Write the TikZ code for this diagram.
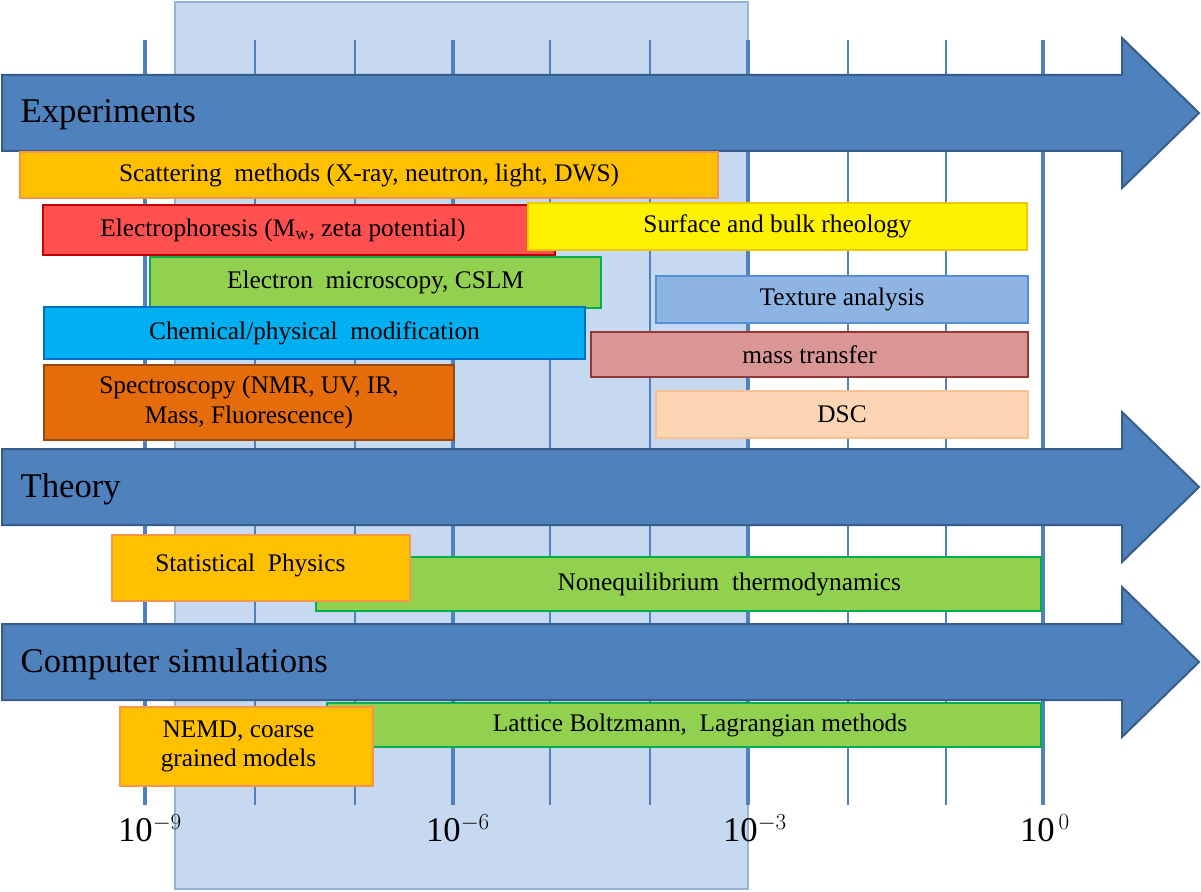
\documentclass[tikz,border=0pt]{standalone}
\usepackage{fontspec}
\setmainfont{Liberation Serif}
\definecolor{arrowblue}{HTML}{4F81BD}
\definecolor{arrowline}{HTML}{385D8A}
\definecolor{bandfill}{HTML}{C6D9F1}
\definecolor{bandline}{HTML}{95B3D7}
\begin{document}
\begin{tikzpicture}[x=0.75pt,y=-0.75pt,
  bigarrow/.style={fill=arrowblue,draw=arrowline,line width=1.5pt},
  method/.style={line width=1.8pt,font=\fontsize{19}{22}\selectfont},
  ticklabel/.style={font=\fontsize{26}{28}\selectfont}]
\useasboundingbox (0,0) rectangle (1201,891);
% band of the intermediate scales
\draw[fill=bandfill,draw=bandline,line width=1.5pt] (175,2) rectangle (748,889);
% grid lines
\foreach \x in {145,453,748,1043}
  \draw[arrowblue,line width=2.5pt] (\x,40) -- (\x,805);
\foreach \x in {255,355,550,650,848,946}
  \draw[arrowblue,line width=0.8pt] (\x,40) -- (\x,805);
% arrows
\foreach \yc/\txt in {113/Experiments,487/Theory,662/Computer simulations}{
  \draw[bigarrow] (2,\yc-38) -- (1122,\yc-38) -- (1122,\yc-75) -- (1199,\yc)
    -- (1122,\yc+75) -- (1122,\yc+38) -- (2,\yc+38) -- cycle;
  \node[anchor=west,font=\fontsize{26}{28}\selectfont] at (16,\yc+2) {\txt};
}
% experiments
\draw[method,fill={rgb,255:red,255;green,192;blue,0},draw={rgb,255:red,247;green,150;blue,70}] (20,152) rectangle (718,198)
  node[midway] (scat) {Scattering\ \ methods (X-ray, neutron, light, DWS)};
\draw[method,fill={rgb,255:red,255;green,80;blue,80},draw={rgb,255:red,192;green,0;blue,0}] (43,205) rectangle (555,255)
  node[midway,xshift=-12pt] (elph) {Electrophoresis (M$_\mathrm{w}$, zeta potential)};
\draw[method,fill=yellow,draw={rgb,255:red,240;green,200;blue,0}] (528,203) rectangle (1027,250)
  node[midway] (rheo) {Surface and bulk rheology};
\draw[method,fill={rgb,255:red,146;green,208;blue,80},draw={rgb,255:red,0;green,176;blue,80}] (150,257) rectangle (601,308)
  node[midway] (em) {Electron\ \ microscopy,\ CSLM};
\draw[method,fill={rgb,255:red,142;green,180;blue,227},draw={rgb,255:red,85;green,142;blue,213}] (656,276) rectangle (1028,323)
  node[midway] (tex) {Texture analysis};
\draw[method,fill={rgb,255:red,0;green,176;blue,240},draw={rgb,255:red,0;green,112;blue,192}] (44,307) rectangle (585,359)
  node[midway] (chem) {Chemical/physical\ \ modification};
\draw[method,fill={rgb,255:red,217;green,150;blue,148},draw={rgb,255:red,149;green,55;blue,53}] (591,332) rectangle (1028,377)
  node[midway] (mass) {mass transfer};
\draw[method,fill={rgb,255:red,228;green,108;blue,10},draw={rgb,255:red,152;green,72;blue,7}] (44,365) rectangle (454,440)
  node[midway,align=center] (spec) {Spectroscopy\ (NMR, UV, IR,\\Mass, Fluorescence)};
\draw[method,fill={rgb,255:red,252;green,213;blue,181},draw={rgb,255:red,250;green,192;blue,144}] (656,391) rectangle (1028,438)
  node[midway] (dsc) {DSC};
% theory
\draw[method,fill={rgb,255:red,146;green,208;blue,80},draw={rgb,255:red,0;green,176;blue,80}] (316,557) rectangle (1041,611)
  node[midway,xshift=38pt] (neq) {Nonequilibrium\ \ thermodynamics};
\draw[method,fill={rgb,255:red,255;green,192;blue,0},draw={rgb,255:red,247;green,150;blue,70}] (112,535) rectangle (410,601)
  node[midway,xshift=-8pt,yshift=2pt] (stat) {Statistical\ \ Physics};
% simulations
\draw[method,fill={rgb,255:red,146;green,208;blue,80},draw={rgb,255:red,0;green,176;blue,80}] (327,703) rectangle (1041,747)
  node[midway,xshift=12pt] (lbm) {Lattice\ Boltzmann,\ \ Lagrangian methods};
\draw[method,fill={rgb,255:red,255;green,192;blue,0},draw={rgb,255:red,247;green,150;blue,70}] (120,707) rectangle (373,786)
  node[midway,align=center,xshift=-6pt] (nemd) {NEMD,\ coarse\\grained models};
% scale
\node[ticklabel] (t9) at (150,828) {10$^{-9}$};
\node[ticklabel] (t6) at (458,828) {10$^{-6}$};
\node[ticklabel] (t3) at (755,828) {10$^{-3}$};
\node[ticklabel] (t0) at (1045,828) {10$^{\,0}$};
\end{tikzpicture}
\end{document}
